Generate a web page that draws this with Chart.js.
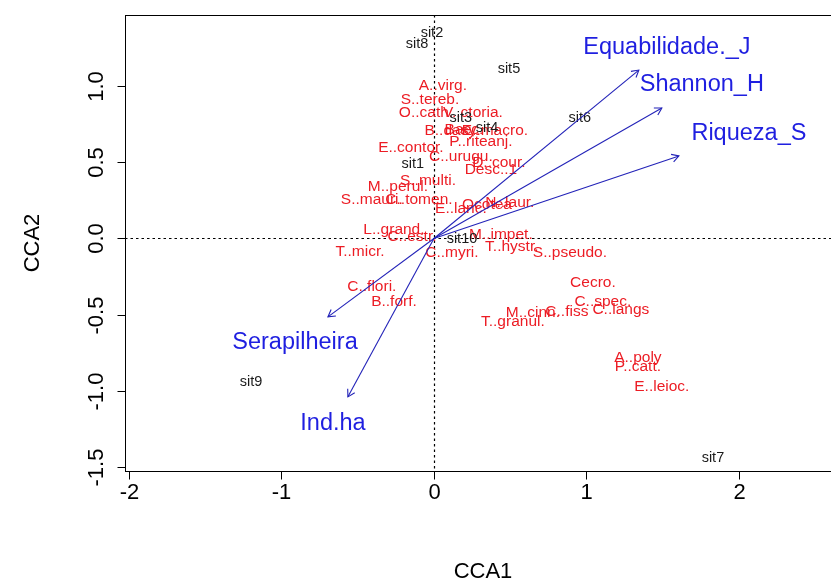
<!DOCTYPE html>
<html><head><meta charset="utf-8">
<script src="https://cdn.jsdelivr.net/npm/chart.js@4.4.1/dist/chart.umd.min.js"></script>
<style>html,body{margin:0;padding:0;overflow:hidden;background:#fff}#wrap{width:850px;height:583px;position:relative}</style>
</head><body><div id="wrap"><canvas id="c" width="850" height="583"></canvas></div>
<script>
// ---- data ----
const siteNames = ['sit1','sit2','sit3','sit4','sit5','sit6','sit7','sit8','sit9','sit10'];
const siteX = [-0.138,-0.013,0.177,0.348,0.492,0.957,1.830,-0.111,-1.200,0.184];
const siteY = [0.488,1.347,0.790,0.724,1.111,0.790,-1.438,1.274,-0.940,-0.003];

const speciesNames = ['A..virg.','S..tereb.','O..cath.','V..ctoria.','B..dasy.','Bacc.','E..macro.','P..riteanj.',
  'E..contor.','C..urugu.','D..cour.','Desc..1','S..multi.','M..perul.','S..mauri.','C..tomen.','E..lanc.',
  'Ocotea','N..laur.','L..grand.','C..estr.','M..impet.','T..micr.','C..myri.','T..hystr.','S..pseudo.',
  'C..flori.','B..forf.','Cecro.','C..spec.','C..langs','C..fiss','M..cinn.','T..granul.','A..poly','P..catt.','E..leioc.'];
const speciesX = [0.059,-0.026,-0.052,0.256,0.118,0.197,0.400,0.308,
  -0.151,0.177,0.426,0.374,-0.039,-0.236,-0.407,-0.098,0.177,
  0.348,0.498,-0.262,-0.144,0.439,-0.485,0.118,0.511,0.892,
  -0.407,-0.262,1.043,1.108,1.226,0.872,0.649,0.518,1.338,1.338,1.495];
const speciesY = [0.999,0.908,0.822,0.822,0.704,0.711,0.704,0.632,
  0.593,0.534,0.495,0.449,0.380,0.337,0.252,0.252,0.193,
  0.220,0.233,0.056,0.010,0.023,-0.088,-0.095,-0.056,-0.095,
  -0.318,-0.416,-0.292,-0.416,-0.469,-0.482,-0.488,-0.547,-0.783,-0.842,-0.973];

const envNames = ['Equabilidade._J','Shannon_H','Riqueza_S','Serapilheira','Ind.ha'];
const envX = [1.344,1.495,1.607,-0.695,-0.564];
const envY = [1.104,0.855,0.541,-0.514,-1.038];
const envLabelX = [1.528,1.757,2.066,-0.911,-0.662];
const envLabelY = [1.255,1.012,0.691,-0.684,-1.215];

const xTicks = [-2,-1,0,1,2];
const xTickLabels = ['-2','-1','0','1','2'];
const yTicks = [-1.5,-1,-0.5,0,0.5,1];
const yTickLabels = ['-1.5','-1.0','-0.5','0.0','0.5','1.0'];
const xTitle = 'CCA1', yTitle = 'CCA2';

// ---- styles ----
const FONT = '"Liberation Sans", Arial, sans-serif';
const RED = '#ec1c24', BLACK = '#1a1a1a', BLUE = '#1f1fe0', ARROW = '#2323b8';

const pts = (xs, ys) => xs.map((x, i) => ({x, y: ys[i]}));
const datasets = [
  {label:'species', data: pts(speciesX, speciesY), pointRadius:0, showLine:false},
  {label:'sites', data: pts(siteX, siteY), pointRadius:0, showLine:false},
];
envNames.forEach((n, i) => datasets.push({
  label: n, data: [{x:0,y:0},{x:envX[i],y:envY[i]}], showLine:true, pointRadius:0,
  borderColor: ARROW, borderWidth: 1.1, fill:false
}));
datasets.push({label:'envLabels', data: pts(envLabelX, envLabelY), pointRadius:0, showLine:false});

const plugin = {
  id:'rplot',
  beforeDatasetsDraw(chart) {
    const {ctx, chartArea:a, scales:{x, y}} = chart;
    ctx.save();
    ctx.strokeStyle = '#000'; ctx.lineWidth = 1.2; ctx.setLineDash([2.5,3]);
    const x0 = Math.round(x.getPixelForValue(0)) + 0.5, y0 = Math.round(y.getPixelForValue(0)) + 0.5;
    ctx.beginPath(); ctx.moveTo(a.left, y0); ctx.lineTo(a.right, y0); ctx.stroke();
    ctx.beginPath(); ctx.moveTo(x0, a.top); ctx.lineTo(x0, a.bottom); ctx.stroke();
    ctx.setLineDash([]);
    ctx.textAlign = 'center'; ctx.textBaseline = 'middle';
    ctx.font = '15.5px ' + FONT; ctx.fillStyle = RED;
    chart.getDatasetMeta(0).data.forEach((el, i) => ctx.fillText(speciesNames[i], el.x, el.y));
    ctx.font = '14.5px ' + FONT; ctx.fillStyle = BLACK;
    chart.getDatasetMeta(1).data.forEach((el, i) => ctx.fillText(siteNames[i], el.x, el.y));
    ctx.restore();
  },
  afterDatasetsDraw(chart) {
    const {ctx} = chart;
    ctx.save();
    ctx.strokeStyle = ARROW; ctx.lineWidth = 1.1;
    envNames.forEach((n, i) => {
      const d = chart.getDatasetMeta(2 + i).data;
      const p0 = d[0], p1 = d[1];
      const ang = Math.atan2(p1.y - p0.y, p1.x - p0.x), L = 8, h = Math.PI / 6;
      ctx.beginPath();
      ctx.moveTo(p1.x - L * Math.cos(ang - h), p1.y - L * Math.sin(ang - h));
      ctx.lineTo(p1.x, p1.y);
      ctx.lineTo(p1.x - L * Math.cos(ang + h), p1.y - L * Math.sin(ang + h));
      ctx.stroke();
    });
    ctx.textAlign = 'center'; ctx.textBaseline = 'middle';
    ctx.font = '23.5px ' + FONT; ctx.fillStyle = BLUE;
    chart.getDatasetMeta(2 + envNames.length).data.forEach((el, i) => ctx.fillText(envNames[i], el.x, el.y));
    ctx.restore();
  },
  afterDraw(chart) {
    const {ctx, chartArea:a, scales:{x, y}} = chart;
    ctx.save();
    ctx.strokeStyle = '#000'; ctx.lineWidth = 1;
    const L = Math.round(a.left) + 0.5, T = Math.round(a.top) + 0.5, B = Math.round(a.bottom) + 0.5, R = Math.round(a.right) + 0.5;
    ctx.strokeRect(L, T, R - L, B - T);
    ctx.fillStyle = '#000'; ctx.font = '22px ' + FONT;
    ctx.textAlign = 'center'; ctx.textBaseline = 'middle';
    xTicks.forEach((v, i) => {
      const px = Math.round(x.getPixelForValue(v)) + 0.5;
      ctx.beginPath(); ctx.moveTo(px, B); ctx.lineTo(px, B + 8); ctx.stroke();
      ctx.fillText(xTickLabels[i], px, B + 21);
    });
    yTicks.forEach((v, i) => {
      const py = Math.round(y.getPixelForValue(v)) + 0.5;
      ctx.beginPath(); ctx.moveTo(L, py); ctx.lineTo(L - 8, py); ctx.stroke();
      ctx.save(); ctx.translate(L - 29, py); ctx.rotate(-Math.PI / 2);
      ctx.fillText(yTickLabels[i], 0, 0); ctx.restore();
    });
    ctx.fillText(xTitle, (a.left + a.right) / 2, 572);
    ctx.save(); ctx.translate(33, (a.top + a.bottom) / 2); ctx.rotate(-Math.PI / 2);
    ctx.fillText(yTitle, 0, 0); ctx.restore();
    ctx.restore();
  }
};

new Chart(document.getElementById('c'), {
  type: 'scatter',
  data: {datasets},
  options: {
    responsive: false, animation: false,
    layout: {padding: {left: 125, right: 9, top: 15, bottom: 112}},
    scales: {
      x: {type:'linear', min:-2.026, max:2.67, display:false},
      y: {type:'linear', min:-1.524, max:1.465, display:false}
    },
    plugins: {legend:{display:false}, tooltip:{enabled:false}}
  },
  plugins: [plugin]
});
</script></body></html>
